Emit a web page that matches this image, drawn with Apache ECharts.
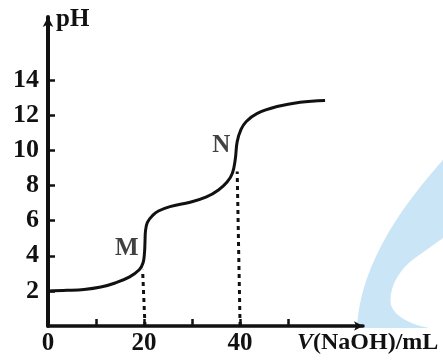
<!DOCTYPE html>
<html>
<head>
<meta charset="utf-8">
<script src="https://cdn.jsdelivr.net/npm/echarts@6/dist/echarts.min.js"></script>
<style>
html,body{margin:0;padding:0;background:#fff;}
#c{width:443px;height:360px;}
</style>
</head>
<body>
<div id="c"></div>
<script>
// Data
const curveX = [0, 4, 7.5, 11, 14, 17, 19, 19.8, 20.1, 20.2, 20.3, 20.7, 21.8, 23, 25.4, 29.6, 33, 35.5, 37.3, 38.4, 39, 39.4, 40.2, 41.3, 43.5, 47.7, 52.5, 57.7];
const curvePH = [2.0, 2.03, 2.08, 2.22, 2.45, 2.8, 3.2, 3.6, 4.2, 4.8, 5.4, 5.9, 6.3, 6.55, 6.8, 7.05, 7.35, 7.75, 8.2, 8.7, 9.5, 10.5, 11.2, 11.65, 12.1, 12.5, 12.75, 12.85];
const mDropX = [20.2, 19.7];
const mDropY = [0, 3.2];
const nDropX = [40, 39.4];
const nDropY = [0, 8.8];
const pointNames = ['M', 'N'];
const pointX = [20.1, 39.2];
const pointY = [4.4, 10.3];
const yTickLabels = [2, 4, 6, 8, 10, 12, 14];
const xTickLabels = [0, 20, 40];
const xTicks = [10, 20, 30, 40, 50];

const chart = echarts.init(document.getElementById('c'));
const font = '"Liberation Serif", "DejaVu Serif", serif';
const zip = (a, b) => a.map((v, i) => [v, b[i]]);

// sample cubic bezier segments for watermark decoration
function bez(p0, p1, p2, p3, n) {
  const out = [];
  for (let i = 0; i <= n; i++) {
    const t = i / n, u = 1 - t;
    out.push([
      u*u*u*p0[0] + 3*u*u*t*p1[0] + 3*u*t*t*p2[0] + t*t*t*p3[0],
      u*u*u*p0[1] + 3*u*u*t*p1[1] + 3*u*t*t*p2[1] + t*t*t*p3[1]
    ]);
  }
  return out;
}
const bluePts = bez([443,160],[400,208],[360,266],[357,328],30).concat([[443,328]]);
const whitePts = [[443,238]].concat(bez([415,258],[398,270],[388,290],[391,305],15), bez([391,305],[396,320],[420,328],[443,330],15));

chart.setOption({
  backgroundColor: '#ffffff',
  animation: false,
  graphic: [
    { type: 'polygon', z: 0, silent: true, shape: { points: bluePts }, style: { fill: '#c9e5f6' } },
    { type: 'polygon', z: 1, silent: true, shape: { points: whitePts }, style: { fill: '#ffffff' } },
    { type: 'text', left: 56, top: 7, z: 10, style: { text: 'pH', font: 'bold 25px ' + font, fill: '#111' } },
    { type: 'text', left: 297, top: 331, z: 10, style: {
        text: '{i|V}(NaOH)/mL', font: 'bold 24px ' + font, fill: '#111',
        rich: { i: { fontStyle: 'italic', fontWeight: 'bold', fontSize: 24, fontFamily: font, fill: '#111' } } } }
  ],
  grid: { left: 48, right: 80, top: 17, bottom: 34, containLabel: false },
  xAxis: {
    type: 'value', min: 0, max: 65.6, interval: 10,
    splitLine: { show: false },
    axisLine: { lineStyle: { color: '#111', width: 3.5 }, symbol: ['none', 'arrow'], symbolSize: [7, 9] },
    axisTick: { show: true, inside: true, length: 7, lineStyle: { color: '#111', width: 2.5 }, customValues: xTicks },
    axisLabel: { customValues: xTickLabels, margin: 5, color: '#111', fontFamily: font, fontWeight: 'bold', fontSize: 25 }
  },
  yAxis: {
    type: 'value', min: 0, max: 17.6, interval: 2,
    splitLine: { show: false },
    axisLine: { lineStyle: { color: '#111', width: 4 }, symbol: ['none', 'arrow'], symbolSize: [8, 10] },
    axisTick: { show: true, inside: true, length: 7, lineStyle: { color: '#111', width: 2.5 }, customValues: yTickLabels },
    axisLabel: { customValues: yTickLabels, margin: 9, color: '#111', fontFamily: font, fontWeight: 'bold', fontSize: 26 }
  },
  series: [
    {
      type: 'line', data: zip(curveX, curvePH), smooth: 0.4, showSymbol: false,
      lineStyle: { color: '#111', width: 3 }, z: 5
    },
    {
      type: 'line', data: zip(mDropX, mDropY), showSymbol: false,
      lineStyle: { color: '#111', width: 3, type: [4, 4] }, z: 4
    },
    {
      type: 'line', data: zip(nDropX, nDropY), showSymbol: false,
      lineStyle: { color: '#111', width: 3, type: [4, 4] }, z: 4
    },
    {
      type: 'scatter', symbolSize: 0, z: 6,
      data: pointNames.map((n, i) => ({ name: n, value: [pointX[i], pointY[i]] })),
      label: { show: true, position: 'left', distance: 6, formatter: '{b}', color: '#111',
        fontFamily: font, fontWeight: 'bold', fontSize: 25 }
    }
  ]
});
</script>
</body>
</html>
